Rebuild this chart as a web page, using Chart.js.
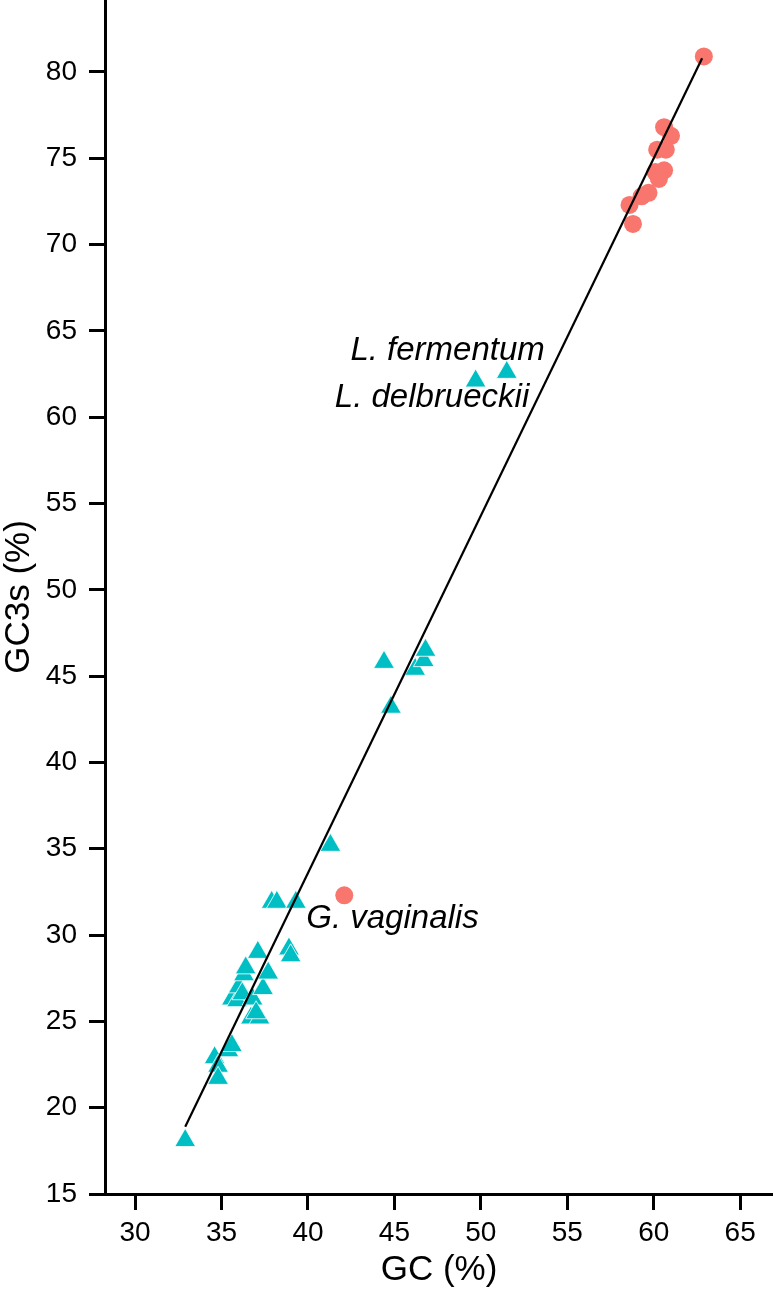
<!DOCTYPE html>
<html>
<head>
<meta charset="utf-8">
<script src="https://cdn.jsdelivr.net/npm/chart.js@4.4.1/dist/chart.umd.min.js"></script>
<style>
  body { margin: 0; background: #fff; }
  #wrap { width: 773px; height: 1296px; }
</style>
</head>
<body>
<div id="wrap"><canvas id="grafico" width="773" height="1296"></canvas></div>
<script>
// values
const redGC   = [62.9, 60.6, 61.0, 60.2, 60.7, 60.1, 60.6, 60.3, 59.7, 59.3, 58.6, 58.8, 42.1];
const redGC3s = [80.9, 76.8, 76.3, 75.5, 75.5, 74.2, 74.3, 73.8, 73.0, 72.8, 72.3, 71.2, 32.3];

const tealGC   = [32.9, 34.6, 34.8, 34.8, 35.4, 35.6, 35.6, 35.9, 36.0, 36.2, 36.3, 36.4, 36.8, 37.1,
                  37.4, 37.7, 36.7, 37.2, 37.0, 38.9, 39.0, 37.9, 38.2, 39.3, 41.3, 44.4, 44.8,
                  46.2, 46.7, 46.8, 49.7, 51.5];
const tealGC3s = [18.1, 22.9, 22.4, 21.7, 23.3, 23.6, 26.3, 26.2, 27.0, 26.6, 27.7, 28.1, 26.3, 29.0,
                  26.9, 27.8, 25.2, 25.2, 25.5, 29.2, 28.8, 31.9, 31.9, 31.9, 35.2, 45.8, 43.2,
                  45.4, 45.9, 46.5, 62.1, 62.6];

// fitted line end points
const fitGC   = [32.9, 62.8];
const fitGC3s = [18.9, 80.8];

const xTicks = [30, 35, 40, 45, 50, 55, 60, 65];
const yTicks = [15, 20, 25, 30, 35, 40, 45, 50, 55, 60, 65, 70, 75, 80];

const labelText  = ['L. fermentum', 'L. delbrueckii', 'G. vaginalis'];
const labelGC    = [53.7, 52.8, 39.9];
const labelGC3s  = [63.3, 60.6, 30.4];
const labelAlign = ['right', 'right', 'left'];

const fonte = '"Liberation Sans", Arial, sans-serif';

const pontos = (xs, ys) => xs.map((v, i) => ({ x: v, y: ys[i] }));

const rotulos = {
  id: 'rotulos',
  afterDatasetsDraw(chart) {
    const { ctx, scales: { x, y } } = chart;
    ctx.save();
    ctx.font = 'italic 33px ' + fonte;
    ctx.fillStyle = '#000';
    ctx.textBaseline = 'alphabetic';
    labelText.forEach((t, i) => {
      ctx.textAlign = labelAlign[i];
      ctx.fillText(t, x.getPixelForValue(labelGC[i]), y.getPixelForValue(labelGC3s[i]));
    });
    ctx.restore();
  }
};

const eixo = {
  border: { color: '#000', width: 3 },
  grid: { drawOnChartArea: false, color: '#000', tickLength: 16, tickWidth: 3 },
};

new Chart(document.getElementById('grafico'), {
  type: 'scatter',
  data: {
    datasets: [
      {
        data: pontos(fitGC, fitGC3s),
        showLine: true,
        borderColor: '#000',
        borderWidth: 2.2,
        pointRadius: 0,
        fill: false
      },
      {
        data: pontos(redGC, redGC3s),
        backgroundColor: '#F8766D',
        borderWidth: 0,
        pointStyle: 'circle',
        pointRadius: 9
      },
      {
        data: pontos(tealGC, tealGC3s),
        backgroundColor: '#00BFC4',
        borderColor: '#fff',
        borderWidth: 0.8,
        pointStyle: 'triangle',
        pointRadius: 12
      }
    ]
  },
  options: {
    responsive: false,
    animation: false,
    devicePixelRatio: 1,
    layout: { padding: 0, autoPadding: false },
    plugins: { legend: { display: false }, tooltip: { enabled: false } },
    scales: {
      x: {
        ...eixo,
        type: 'linear',
        min: 28.26,
        max: 66.9,
        afterBuildTicks: s => { s.ticks = xTicks.map(v => ({ value: v })); },
        afterFit: s => { s.height = 102; s.paddingLeft = 0; s.paddingRight = 0; },
        ticks: { color: '#000', padding: 6, font: { family: fonte, size: 28 } },
        title: {
          display: true, text: 'GC (%)', color: '#000',
          font: { family: fonte, size: 35, lineHeight: 1 },
          padding: { top: 0, bottom: 8 }
        }
      },
      y: {
        ...eixo,
        type: 'linear',
        min: 15,
        max: 84.17,
        afterBuildTicks: s => { s.ticks = yTicks.map(v => ({ value: v })); },
        afterFit: s => { s.width = 105; s.paddingTop = 0; s.paddingBottom = 0; },
        ticks: { color: '#000', padding: 12, font: { family: fonte, size: 28 } },
        title: {
          display: true, text: 'GC3s (%)', color: '#000',
          font: { family: fonte, size: 35, lineHeight: 1 },
          padding: { top: 2, bottom: 0 }
        }
      }
    }
  },
  plugins: [rotulos]
});
</script>
</body>
</html>
